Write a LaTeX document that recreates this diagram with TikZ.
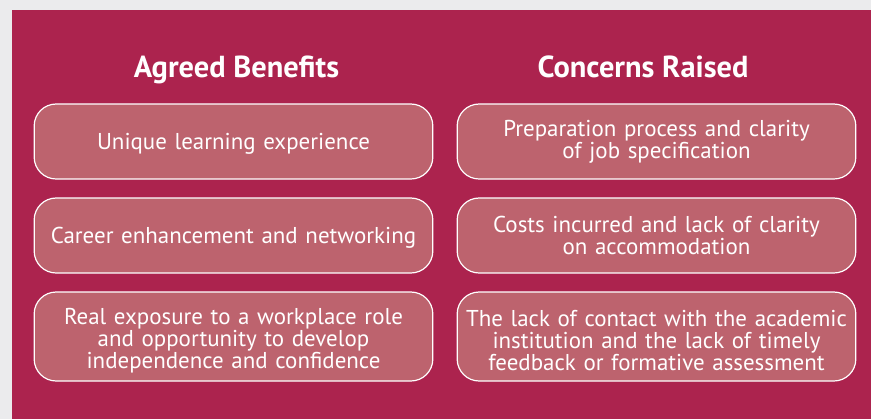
\documentclass[tikz,border=0pt]{standalone}
\usepackage{fontspec}
\setmainfont{PT Sans}
\definecolor{pagegray}{HTML}{EBEBED}
\definecolor{plum}{HTML}{AC234E}
\definecolor{boxfill}{HTML}{BD636E}
\newcommand\cardfont{\fontsize{17.2pt}{16.5pt}\selectfont\lineskiplimit=-20pt\relax}
\tikzset{
  card/.style={draw=white, line width=0.9pt, fill=boxfill, rounded corners=16.5pt,
    minimum width=299pt, text width=295pt, align=center, inner sep=0pt,
    text=white, font=\cardfont},
  heading/.style={text=white, anchor=base, inner sep=0pt, font=\fontsize{22.8pt}{24pt}\selectfont\bfseries}
}
\begin{document}
\begin{tikzpicture}[x=0.75pt,y=-0.75pt]
\useasboundingbox (0,0) rectangle (871,419);
\fill[pagegray] (0,0) rectangle (871,419);
\fill[plum] (12,10) rectangle (871,419);
\node[heading] (h1) at (236.5,77) {Agreed Benefits};
\node[heading] (h2) at (643,77) {Concerns Raised};
\node[card, minimum height=56.25pt] (b1) at (233.5,141.5) {\rule{0pt}{15.4pt}Unique learning experience};
\node[card, minimum height=56.25pt] (b2) at (233.5,235.5) {\rule{0pt}{15.4pt}Career enhancement and networking};
\node[card, minimum height=66.75pt] (b3) at (233.5,336.5) {\rule{0pt}{18pt}Real exposure to a workplace role\\and opportunity to develop\\independence and confidence};
\node[card, minimum height=56.25pt] (c1) at (656.5,141.5) {Preparation process and clarity\\of job specification};
\node[card, minimum height=56.25pt] (c2) at (656.5,235.5) {Costs incurred and lack of clarity\\on accommodation};
\node[card, minimum height=66.75pt] (c3) at (656.5,336.5) {\rule{0pt}{18pt}The lack of contact with the academic\\institution and the lack of timely\\feedback or formative assessment};
\end{tikzpicture}
\end{document}
